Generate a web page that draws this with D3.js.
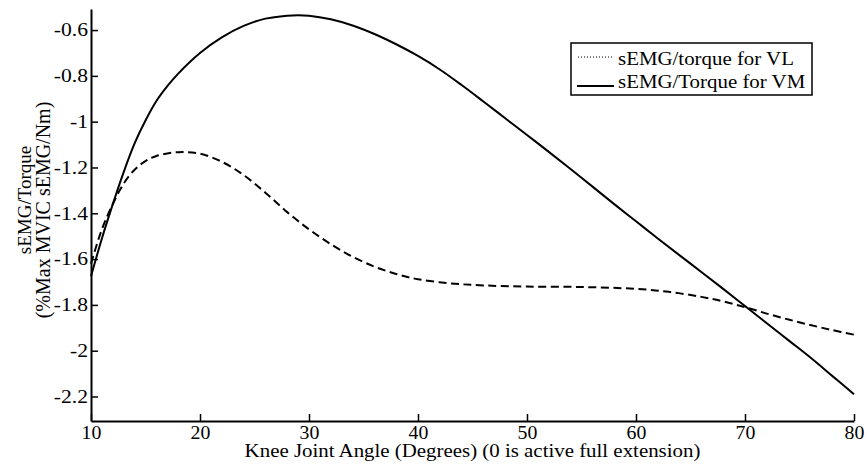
<!DOCTYPE html>
<html>
<head>
<meta charset="utf-8">
<script src="https://cdn.jsdelivr.net/npm/d3@7"></script>
<style>
  body { margin: 0; background: #fff; }
  text { font-family: "Liberation Serif", "Times New Roman", serif; fill: #000; }
</style>
</head>
<body>
<svg id="chart" width="867" height="468"></svg>
<script>
// knee angle (degrees) and sEMG/torque values
const vmAngles = [10, 11, 12, 13, 14, 15, 16, 17, 18, 20, 22, 24, 26, 28, 29, 30, 32, 34, 36, 38, 40,
                  42, 44, 46, 48, 50, 52, 55, 58, 60, 62, 65, 68, 70, 72, 74, 76, 78, 80];
const vmValues = [-1.675, -1.51, -1.36, -1.22, -1.095, -0.995, -0.91, -0.845, -0.79, -0.70, -0.632, -0.582,
                  -0.55, -0.537, -0.535, -0.537, -0.553, -0.58, -0.617, -0.662, -0.713,
                  -0.772, -0.84, -0.912, -0.985, -1.058, -1.132, -1.245, -1.36, -1.435, -1.51,
                  -1.62, -1.73, -1.805, -1.88, -1.955, -2.03, -2.11, -2.19];

const vlAngles = [10, 11, 12, 13, 14, 15, 16, 18, 20, 22, 24, 26, 28, 30, 32, 34, 36, 38, 40,
                  43, 46, 50, 55, 60, 63, 66, 68, 70, 72, 74, 76, 78, 80];
const vlValues = [-1.62, -1.47, -1.36, -1.27, -1.21, -1.172, -1.15, -1.133, -1.14, -1.175, -1.233,
                  -1.31, -1.395, -1.47, -1.535, -1.59, -1.633, -1.665, -1.688,
                  -1.706, -1.715, -1.72, -1.722, -1.73, -1.743, -1.765, -1.785, -1.81,
                  -1.838, -1.864, -1.888, -1.91, -1.93];

const xTicks = [10, 20, 30, 40, 50, 60, 70, 80];
const yTicks = [-0.6, -0.8, -1, -1.2, -1.4, -1.6, -1.8, -2, -2.2];
const yTickLabels = ["-0.6", "-0.8", "-1", "-1.2", "-1.4", "-1.6", "-1.8", "-2", "-2.2"];

const seriesNames = ["sEMG/torque for VL", "sEMG/Torque for VM"];
const xLabel = "Knee Joint Angle (Degrees) (0 is active full extension)";
const yLabel1 = "sEMG/Torque";
const yLabel2 = "(%Max MVIC sEMG/Nm)";

const MARGIN = { LEFT: 91, RIGHT: 13, TOP: 9, BOTTOM: 47 };
const width = 867, height = 468;
const STRETCH = 1.16; // the figure text is a bit wide

let svg = d3.select("#chart");

// stretch text horizontally like the source image
function widen(sel, k) {
    sel.each(function () {
        let w = this.getComputedTextLength();
        d3.select(this).attr("textLength", w * k).attr("lengthAdjust", "spacingAndGlyphs");
    });
}

//** SCALES *****************************************
let xScale = d3.scaleLinear()
    .domain([10, 80])
    .range([MARGIN.LEFT, width - MARGIN.RIGHT]);

let yScale = d3.scaleLinear()
    .domain([-2.307, -0.508])
    .range([height - MARGIN.BOTTOM, MARGIN.TOP]);

//** AXES *****************************************
let xAxis = d3.axisBottom(xScale)
    .tickValues(xTicks)
    .tickFormat(d3.format("d"))
    .tickSizeInner(-7)
    .tickSizeOuter(0)
    .tickPadding(5);

let xg = svg.append("g")
    .attr("transform", "translate(0," + (height - MARGIN.BOTTOM) + ")")
    .call(xAxis);
xg.select(".domain").attr("stroke-width", 2);
xg.selectAll(".tick line").attr("stroke-width", 1.5);
xg.selectAll(".tick text").attr("font-size", 18).attr("font-family", null);
widen(xg.selectAll(".tick text"), 1.1);

let yAxis = d3.axisLeft(yScale)
    .tickValues(yTicks)
    .tickFormat((d, i) => yTickLabels[i])
    .tickSizeInner(-7)
    .tickSizeOuter(0)
    .tickPadding(3);

let yg = svg.append("g")
    .attr("transform", "translate(" + MARGIN.LEFT + ",0)")
    .call(yAxis);
yg.select(".domain").attr("stroke-width", 2);
yg.selectAll(".tick line").attr("stroke-width", 1.5);
yg.selectAll(".tick text").attr("font-size", 18).attr("font-family", null);
widen(yg.selectAll(".tick text"), 1.2);

// axis labels
let xl = svg.append("text")
    .attr("x", (MARGIN.LEFT + width - MARGIN.RIGHT) / 2)
    .attr("y", 457)
    .attr("text-anchor", "middle")
    .attr("font-size", 18)
    .text(xLabel);
widen(xl, STRETCH);

svg.append("text")
    .attr("text-anchor", "middle")
    .attr("font-size", 19)
    .attr("transform", "translate(31,200) rotate(-90)")
    .text(yLabel1);

svg.append("text")
    .attr("text-anchor", "middle")
    .attr("font-size", 20)
    .attr("transform", "translate(50,210) rotate(-90)")
    .text(yLabel2);

//** LINES *****************************************
let line = d3.line()
    .x(d => xScale(d[0]))
    .y(d => yScale(d[1]))
    .curve(d3.curveCatmullRom.alpha(0.5));

svg.append("path")
    .datum(vlAngles.map((a, i) => [a, vlValues[i]]))
    .attr("fill", "none")
    .attr("stroke", "#000")
    .attr("stroke-width", 2)
    .attr("stroke-dasharray", "8,4.5")
    .attr("d", line);

svg.append("path")
    .datum(vmAngles.map((a, i) => [a, vmValues[i]]))
    .attr("fill", "none")
    .attr("stroke", "#000")
    .attr("stroke-width", 2)
    .attr("d", line);

//** LEGEND *****************************************
let legend = svg.append("g");

legend.append("rect")
    .attr("x", 571).attr("y", 43)
    .attr("width", 241).attr("height", 52)
    .attr("fill", "#fff")
    .attr("stroke", "#000")
    .attr("stroke-width", 1.5);

legend.append("line")
    .attr("x1", 578).attr("x2", 612)
    .attr("y1", 57).attr("y2", 57)
    .attr("stroke", "#000")
    .attr("stroke-width", 1)
    .attr("stroke-dasharray", "1,2");

legend.append("line")
    .attr("x1", 577).attr("x2", 614)
    .attr("y1", 86).attr("y2", 86)
    .attr("stroke", "#000")
    .attr("stroke-width", 2);

let lt = legend.selectAll("text.leg")
    .data(seriesNames).enter()
    .append("text")
    .attr("class", "leg")
    .attr("x", 618)
    .attr("y", (d, i) => 65 + i * 23)
    .attr("font-size", 18)
    .text(d => d);
widen(lt, STRETCH);
</script>
</body>
</html>
